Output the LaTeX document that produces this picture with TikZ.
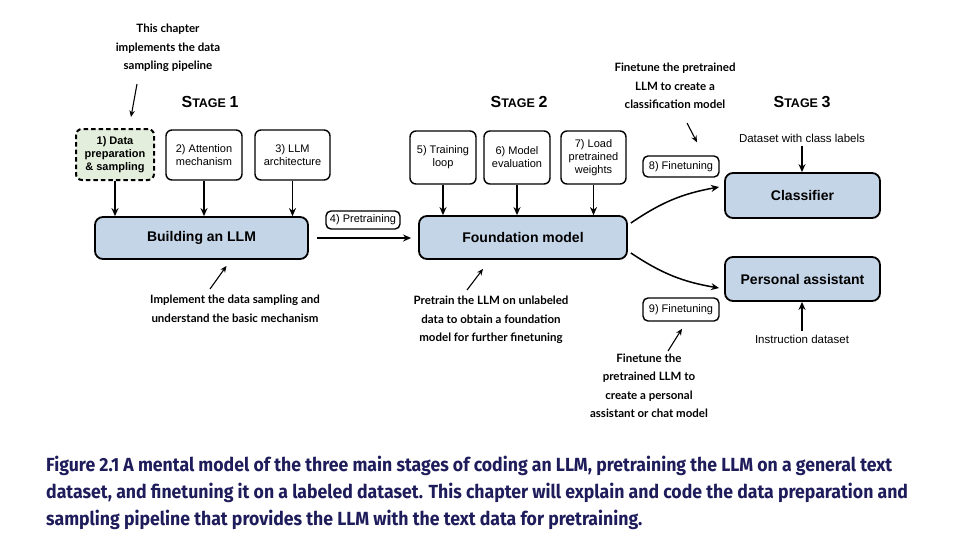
\documentclass[tikz,border=0pt]{standalone}
\usepackage{fontspec}
\setmainfont{Liberation Sans}
\newfontfamily\notefont{Lato}
\newfontfamily\capfont[FakeStretch=0.93]{Fira Sans}
\usetikzlibrary{arrows.meta,positioning}
\definecolor{boxblue}{RGB}{197,213,232}
\definecolor{boxgreen}{RGB}{228,238,220}
\definecolor{capnavy}{RGB}{30,28,90}

\begin{document}
\begin{tikzpicture}[x=1pt,y=-1pt,
  mainbox/.style={draw,line width=1.8pt,rounded corners=8pt,fill=boxblue,inner sep=0pt,
    font=\fontsize{14}{16}\selectfont\bfseries},
  stepbox/.style={draw,line width=1.4pt,rounded corners=6pt,fill=white,inner sep=0pt,
    align=center,font=\fontsize{11}{13}\selectfont},
  tagbox/.style={draw,line width=1.4pt,rounded corners=5pt,inner sep=0pt,
    font=\fontsize{11}{12}\selectfont},
  note/.style={align=center,font=\notefont\bfseries\fontsize{11.5}{18.5}\selectfont},
  stagelbl/.style={font=\bfseries},
  feed/.style={-{Stealth[length=8pt,width=7pt]},line width=1.8pt},
  bendfeed/.style={-{Stealth[length=8pt,width=7pt]},line width=1.5pt},
  pointer/.style={-{Stealth[length=6.5pt,width=5.5pt]},line width=1.1pt}]
\useasboundingbox (0,0) rectangle (953,539);

% stage headings
\node[stagelbl] (st1) at (210,102) {\fontsize{16}{16}\selectfont S\fontsize{12.5}{12}\selectfont TAGE \fontsize{16}{16}\selectfont 1};
\node[stagelbl] (st2) at (519,102) {\fontsize{16}{16}\selectfont S\fontsize{12.5}{12}\selectfont TAGE \fontsize{16}{16}\selectfont 2};
\node[stagelbl] (st3) at (802,102) {\fontsize{16}{16}\selectfont S\fontsize{12.5}{12}\selectfont TAGE \fontsize{16}{16}\selectfont 3};

% main boxes
\node[mainbox,minimum width=213,minimum height=42] (build) at (201.5,238) {Building an LLM};
\node[mainbox,minimum width=208,minimum height=43] (found) at (523,237.5) {Foundation model};
\node[mainbox,minimum width=155,minimum height=45] (classif) at (802.5,195.5) {Classifier};
\node[mainbox,minimum width=155,minimum height=44] (assist) at (802.5,279) {Personal assistant};

% steps
\node[stepbox,line width=2pt,dash pattern=on 4.5pt off 3pt,fill=boxgreen,
  font=\fontsize{11}{13}\selectfont\bfseries,
  minimum width=78,minimum height=51] (data) at (115,154.5) {1) Data\\preparation\\\& sampling};
\node[stepbox,minimum width=76,minimum height=50] (attn) at (204,155) {2) Attention\\mechanism};
\node[stepbox,minimum width=75,minimum height=50] (arch) at (292.5,155) {3) LLM\\architecture};
\node[stepbox,minimum width=66,minimum height=53] (loop) at (443,157.5) {5) Training\\loop};
\node[stepbox,minimum width=66,minimum height=53] (eval) at (517,157.5) {6) Model\\evaluation};
\node[stepbox,minimum width=65,minimum height=53] (load) at (593.5,157.5) {7) Load\\pretrained\\weights};

\node[tagbox,minimum width=74,minimum height=18] (pretr) at (363,220) {4) Pretraining};
\node[tagbox,minimum width=76,minimum height=21] (tune8) at (681,166.5) {8) Finetuning};
\node[tagbox,minimum width=76,minimum height=23] (tune9) at (681,309.5) {9) Finetuning};

\node[font=\fontsize{11.5}{12}\selectfont] (classdata) at (802,138) {Dataset with class labels};
\node[font=\fontsize{11.5}{12}\selectfont] (instdata) at (802,339) {Instruction dataset};

% feeding arrows
\draw[feed] (data.south) -- (data.south |- build.north);
\draw[feed] (attn.south) -- (attn.south |- build.north);
\draw[feed] (arch.south) -- (arch.south |- build.north);
\draw[feed] (loop.south) -- (loop.south |- found.north);
\draw[feed] (eval.south) -- (eval.south |- found.north);
\draw[feed] (load.south) -- (load.south |- found.north);
\draw[feed,shorten <=8pt,shorten >=7pt] (build.east) -- (build.east -| found.west);
\draw[feed] (classdata.south) -- (classdata.south |- classif.north);
\draw[feed] (instdata.north) -- (instdata.north |- assist.south);
\draw[bendfeed] ([xshift=3pt,yshift=14.5pt]found.east) to[bend left=12] ([xshift=-5pt,yshift=8.5pt]classif.west);
\draw[bendfeed] ([xshift=3pt,yshift=-15.5pt]found.east) to[bend right=12] ([xshift=-5pt,yshift=-9pt]assist.west);

% notes
\node[note] (note1) at (168,48) {This chapter\\implements the data\\sampling pipeline};
\node[note] (note2) at (235,309) {Implement the data sampling and\\understand the basic mechanism};
\node[note] (note3) at (491,320) {Pretrain the LLM on unlabeled\\data to obtain a foundation\\model for further finetuning};
\node[note] (note4) at (675,86) {Finetune the pretrained\\LLM to create a\\classification model};
\node[note] (note5) at (649,386) {Finetune the\\pretrained LLM to\\create a personal\\assistant or chat model};

\coordinate (n1) at (137,84);
\coordinate (n2) at (210,289);
\coordinate (n3) at (467,290);
\coordinate (n4) at (687,123);
\coordinate (n5) at (668,351);
\draw[pointer] (n1) -- ([xshift=16pt,yshift=11pt]data.north);
\draw[pointer] (n2) -- ([xshift=25pt,yshift=-6pt]build.south);
\draw[pointer] (n3) -- ([xshift=-40pt,yshift=-9pt]found.south);
\draw[pointer] (n4) -- ([xshift=16pt,yshift=13pt]tune8.north);
\draw[pointer] (n5) -- ([xshift=1pt,yshift=-7pt]tune9.south);

% caption
\node[anchor=north west,align=left,inner sep=0pt,text=capnavy,
  font=\capfont\bfseries\fontsize{19}{27}\selectfont] (caption) at (46,456)
  {Figure 2.1 A mental model of the three main stages of coding an LLM, pretraining the LLM on a general text\\
   dataset, and finetuning it on a labeled dataset. This chapter will explain and code the data preparation and\\
   sampling pipeline that provides the LLM with the text data for pretraining.};
\end{tikzpicture}
\end{document}
